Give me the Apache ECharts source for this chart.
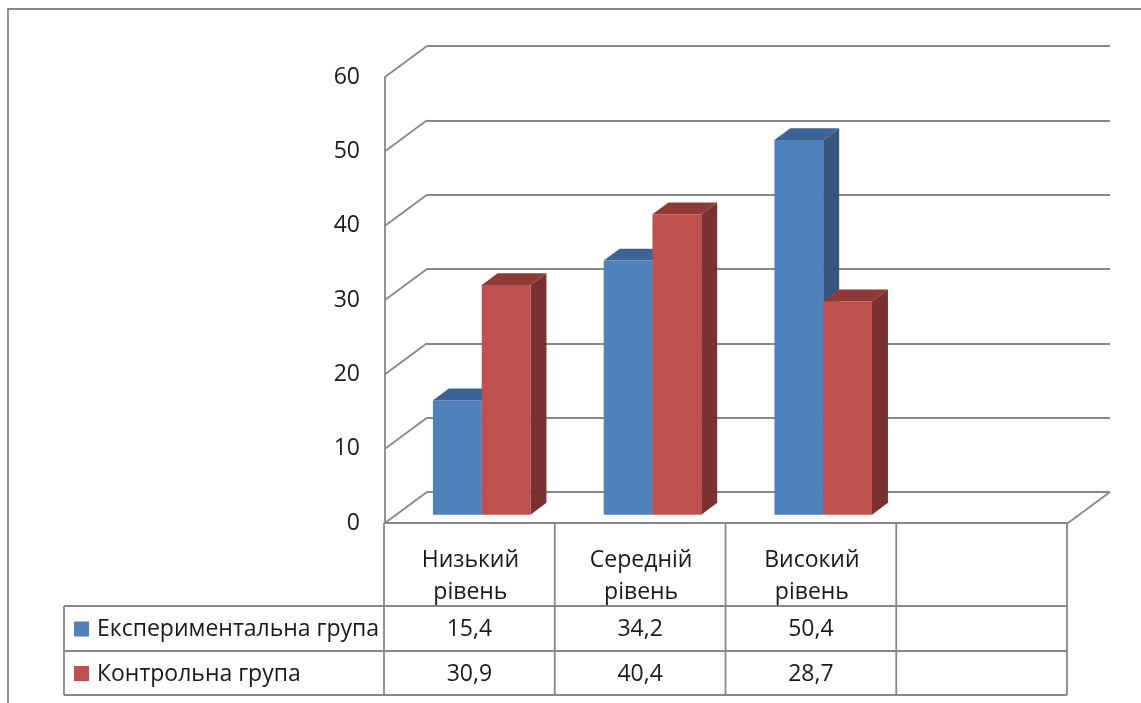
<!DOCTYPE html>
<html>
<head>
<meta charset="utf-8">
<script src="https://cdn.jsdelivr.net/npm/echarts@6/dist/echarts.min.js"></script>
<style>
  html, body { margin: 0; padding: 0; background: #ffffff; }
  #chart { width: 1141px; height: 703px; }
</style>
</head>
<body>
<div id="chart"></div>
<script>
// ---- data ----
const categories = ['Низький\nрівень', 'Середній\nрівень', 'Високий\nрівень', ''];
const seriesNames = ['Експериментальна група', 'Контрольна група'];
const experimental = [15.4, 34.2, 50.4];
const control = [30.9, 40.4, 28.7];
const yTicks = [0, 10, 20, 30, 40, 50, 60];

// ---- look ----
const FONT_FAMILY = '"Open Sans", "Noto Sans", sans-serif';
const FONT_SIZE = 23;
const TEXT_COLOR = '#1a1a1a';
const LINE_COLOR = '#888888';
const LINE_W = 1.8;
const PALETTE = [
  { front: '#4F81BD', top: '#3B6494', side: '#34557C' },
  { front: '#C0504D', top: '#8E3B38', side: '#7A312F' }
];

// 3D box: front plane of the plot, and the depth vector towards the back wall
const FRONT = { left: 385, top: 77, width: 683, height: 446 };
const DEPTH = { dx: 42, dy: -31 };
const BAR_PLANE = 0.27;   // where the column fronts sit inside the depth
const BAR_DEPTH = 0.38;   // how deep each column is
const GAP_WIDTH = 1.5;    // gap between groups, in bar widths

// data table under the plot
const TABLE = { legendLeft: 64, headerBottom: 606, rowBottoms: [651, 695] };

function shiftedGrid(f) {
  return {
    left: FRONT.left + DEPTH.dx * f,
    top: FRONT.top + DEPTH.dy * f,
    width: FRONT.width,
    height: FRONT.height,
    outerBoundsMode: 'none'
  };
}

function valueAxis(gridIndex, extra) {
  return Object.assign({
    type: 'value', gridIndex,
    min: yTicks[0], max: yTicks[yTicks.length - 1], interval: yTicks[1] - yTicks[0],
    axisLabel: { show: false }, axisLine: { show: false },
    axisTick: { show: false }, splitLine: { show: false }
  }, extra || {});
}
function categoryAxis(gridIndex, extra) {
  return Object.assign({
    type: 'category', gridIndex, data: categories, boundaryGap: true,
    axisLabel: { show: false }, axisLine: { show: false },
    axisTick: { show: false }, splitLine: { show: false }
  }, extra || {});
}

function barRenderer(pos, colors) {
  return function (params, api) {
    const cat = api.value(0);
    const val = api.value(1);
    const slot = api.size([1, 0])[0];
    const w = slot / (2 + GAP_WIDTH);
    const base = api.coord([cat, 0]);
    const top = api.coord([cat, val]);
    const x0 = base[0] - w + pos * w;
    const x1 = x0 + w;
    const yb = base[1];
    const yt = top[1];
    const dx = DEPTH.dx * BAR_DEPTH;
    const dy = DEPTH.dy * BAR_DEPTH;
    return {
      type: 'group',
      children: [
        { type: 'polygon', shape: { points: [[x1, yb], [x1 + dx, yb + dy], [x1 + dx, yt + dy], [x1, yt]] },
          style: { fill: colors.side } },
        { type: 'polygon', shape: { points: [[x0, yt], [x1, yt], [x1 + dx, yt + dy], [x0 + dx, yt + dy]] },
          style: { fill: colors.top } },
        { type: 'rect', shape: { x: x0, y: yt, width: w, height: yb - yt },
          style: { fill: colors.front } }
      ]
    };
  };
}

function wallRenderer(params, api) {
  const cs = params.coordSys;
  const v = api.value(1);
  const y = api.coord([0, v])[1];
  const lineStyle = { stroke: LINE_COLOR, lineWidth: LINE_W };
  const children = [
    { type: 'line', shape: { x1: cs.x, y1: y, x2: cs.x + DEPTH.dx, y2: y + DEPTH.dy }, style: lineStyle }
  ];
  if (v === yTicks[0]) {
    const xr = cs.x + cs.width;
    children.push(
      { type: 'line', shape: { x1: cs.x, y1: y, x2: xr, y2: y }, style: lineStyle },
      { type: 'line', shape: { x1: xr, y1: y, x2: xr + DEPTH.dx, y2: y + DEPTH.dy }, style: lineStyle }
    );
  }
  return { type: 'group', children };
}

// data table: borders, legend keys and values
function tableGraphics() {
  const els = [];
  const top = FRONT.top + FRONT.height;
  const colW = FRONT.width / categories.length;
  const left = FRONT.left - 1;
  const right = left + FRONT.width;
  const lineStyle = { stroke: LINE_COLOR, lineWidth: LINE_W };
  const rowTops = [TABLE.headerBottom, TABLE.rowBottoms[0]];
  const bottom = TABLE.rowBottoms[TABLE.rowBottoms.length - 1];

  els.push({ type: 'line', shape: { x1: left, y1: top, x2: right, y2: top }, style: lineStyle });
  [TABLE.headerBottom].concat(TABLE.rowBottoms).forEach(function (y) {
    els.push({ type: 'line', shape: { x1: TABLE.legendLeft, y1: y, x2: right, y2: y }, style: lineStyle });
  });
  els.push({ type: 'line', shape: { x1: TABLE.legendLeft, y1: TABLE.headerBottom, x2: TABLE.legendLeft, y2: bottom }, style: lineStyle });
  for (let i = 0; i <= categories.length; i++) {
    const x = left + colW * i;
    els.push({ type: 'line', shape: { x1: x, y1: top, x2: x, y2: bottom }, style: lineStyle });
  }

  const rows = [experimental, control];
  rows.forEach(function (vals, r) {
    const yTop = rowTops[r];
    const yMid = (yTop + TABLE.rowBottoms[r]) / 2 + 1;
    els.push({ type: 'rect', shape: { x: TABLE.legendLeft + 10, y: yMid - 8, width: 15, height: 15 },
      style: { fill: PALETTE[r].front } });
    els.push({ type: 'text', x: TABLE.legendLeft + 33, y: yMid,
      style: { text: seriesNames[r], fill: TEXT_COLOR, font: FONT_SIZE + 'px ' + FONT_FAMILY,
               align: 'left', verticalAlign: 'middle' } });
    vals.forEach(function (v, c) {
      els.push({ type: 'text', x: left + colW * (c + 0.5), y: yMid,
        style: { text: String(v).replace('.', ','), fill: TEXT_COLOR, font: FONT_SIZE + 'px ' + FONT_FAMILY,
                 align: 'center', verticalAlign: 'middle' } });
    });
  });

  // outer chart frame
  els.push({ type: 'rect', shape: { x: 8, y: 9, width: 1400, height: 900 },
    style: { fill: null, stroke: LINE_COLOR, lineWidth: LINE_W }, silent: true, z: -1 });
  return els;
}

const chart = echarts.init(document.getElementById('chart'), null, { renderer: 'canvas' });

chart.setOption({
  animation: false,
  backgroundColor: '#ffffff',
  textStyle: { fontFamily: FONT_FAMILY },
  grid: [shiftedGrid(1), shiftedGrid(0), shiftedGrid(BAR_PLANE)],
  xAxis: [
    categoryAxis(0),
    categoryAxis(1, {
      axisLabel: { show: true, interval: 0, margin: 21, lineHeight: 32,
                   fontSize: FONT_SIZE, color: TEXT_COLOR, fontFamily: FONT_FAMILY }
    }),
    categoryAxis(2)
  ],
  yAxis: [
    valueAxis(0, { splitLine: { show: true, lineStyle: { color: LINE_COLOR, width: LINE_W } } }),
    valueAxis(1, {
      axisLine: { show: true, lineStyle: { color: LINE_COLOR, width: LINE_W } },
      axisLabel: { show: true, margin: 25, fontSize: FONT_SIZE, color: TEXT_COLOR, fontFamily: FONT_FAMILY }
    }),
    valueAxis(2)
  ],
  series: [
    {
      name: 'walls', type: 'custom', xAxisIndex: 1, yAxisIndex: 1, silent: true,
      renderItem: wallRenderer,
      data: yTicks.map(function (v) { return [0, v]; })
    },
    {
      name: seriesNames[0], type: 'custom', xAxisIndex: 2, yAxisIndex: 2,
      renderItem: barRenderer(0, PALETTE[0]),
      encode: { x: 0, y: 1 },
      data: experimental.map(function (v, i) { return [i, v]; })
    },
    {
      name: seriesNames[1], type: 'custom', xAxisIndex: 2, yAxisIndex: 2,
      renderItem: barRenderer(1, PALETTE[1]),
      encode: { x: 0, y: 1 },
      data: control.map(function (v, i) { return [i, v]; })
    }
  ],
  graphic: { elements: tableGraphics() }
});
</script>
</body>
</html>
